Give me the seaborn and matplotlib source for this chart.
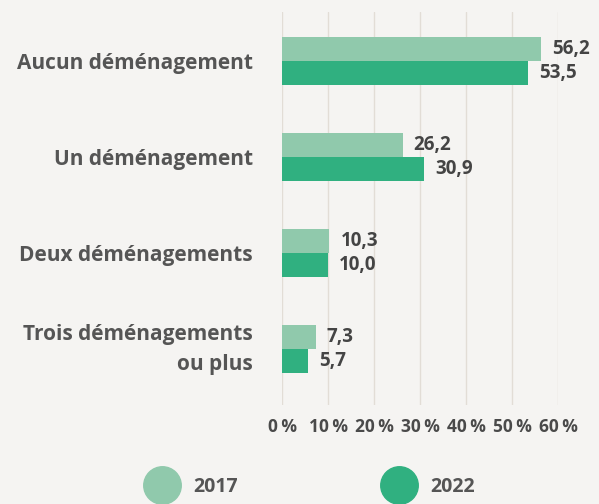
import numpy as np
import pandas as pd
import matplotlib
matplotlib.use("Agg")
import matplotlib.pyplot as plt
from matplotlib.lines import Line2D
import seaborn as sns

categories = ["Aucun déménagement", "Un déménagement", "Deux déménagements",
              "Trois déménagements\nou plus"]
years = ["2017", "2022"]
values_2017 = [56.2, 26.2, 10.3, 7.3]
values_2022 = [53.5, 30.9, 10.0, 5.7]
xticks = [0, 10, 20, 30, 40, 50, 60]

colors = {"2017": "#90c9ac", "2022": "#30b080"}
bg = "#f5f4f2"

df = pd.DataFrame({
    "cat": categories * 2,
    "year": ["2017"] * 4 + ["2022"] * 4,
    "value": values_2017 + values_2022,
})

sns.set_style("white")
plt.rcParams["font.family"] = ["Open Sans", "DejaVu Sans"]

fig = plt.figure(figsize=(5.99, 5.04), dpi=100, facecolor=bg)
ax = fig.add_axes([0.4708, 0.196, 0.4608, 0.78])
ax.set_facecolor(bg)

sns.barplot(data=df, y="cat", x="value", hue="year", order=categories,
            hue_order=years, palette=colors, width=0.5, orient="h",
            saturation=1, linewidth=0, ax=ax, legend=False)

for cont in ax.containers:
    labels = [f"{v:.1f}".replace(".", ",") for v in cont.datavalues]
    ax.bar_label(cont, labels=labels, padding=8, fontsize=13.5,
                 fontweight="bold", color="#444444")

ax.set_xlim(0, 60)
ax.set_ylim(3.58, -0.51)
ax.set_xticks(xticks)
ax.set_xticklabels([f"{t}\u2009%" for t in xticks], fontsize=12.5,
                   fontweight="bold", color="#4a4a4a")
ax.tick_params(axis="x", length=0, pad=9)
ax.tick_params(axis="y", length=0, pad=21)
for lbl in ax.get_yticklabels():
    lbl.set_fontsize(15)
    lbl.set_fontweight("bold")
    lbl.set_color("#555555")
    lbl.set_horizontalalignment("right")
    lbl.set_multialignment("right")
    lbl.set_linespacing(1.6)
    if "\n" in lbl.get_text():
        lbl.set_verticalalignment("center")
ax.grid(axis="x", color="#e2ddd6", linewidth=1)
ax.set_axisbelow(True)
for s in ax.spines.values():
    s.set_visible(False)
ax.set_xlabel("")
ax.set_ylabel("")

handles = [Line2D([0], [0], marker="o", linestyle="", markersize=27,
                  markerfacecolor=colors[y], markeredgecolor=colors[y]) for y in years]
fig.legend(handles, years, loc="lower center", bbox_to_anchor=(0.515, -0.02),
           ncol=2, frameon=False, columnspacing=7.3, handletextpad=0.6,
           prop={"size": 14, "weight": "bold"}, labelcolor="#555555")

fig.savefig("out.png", dpi=100, facecolor=bg)
